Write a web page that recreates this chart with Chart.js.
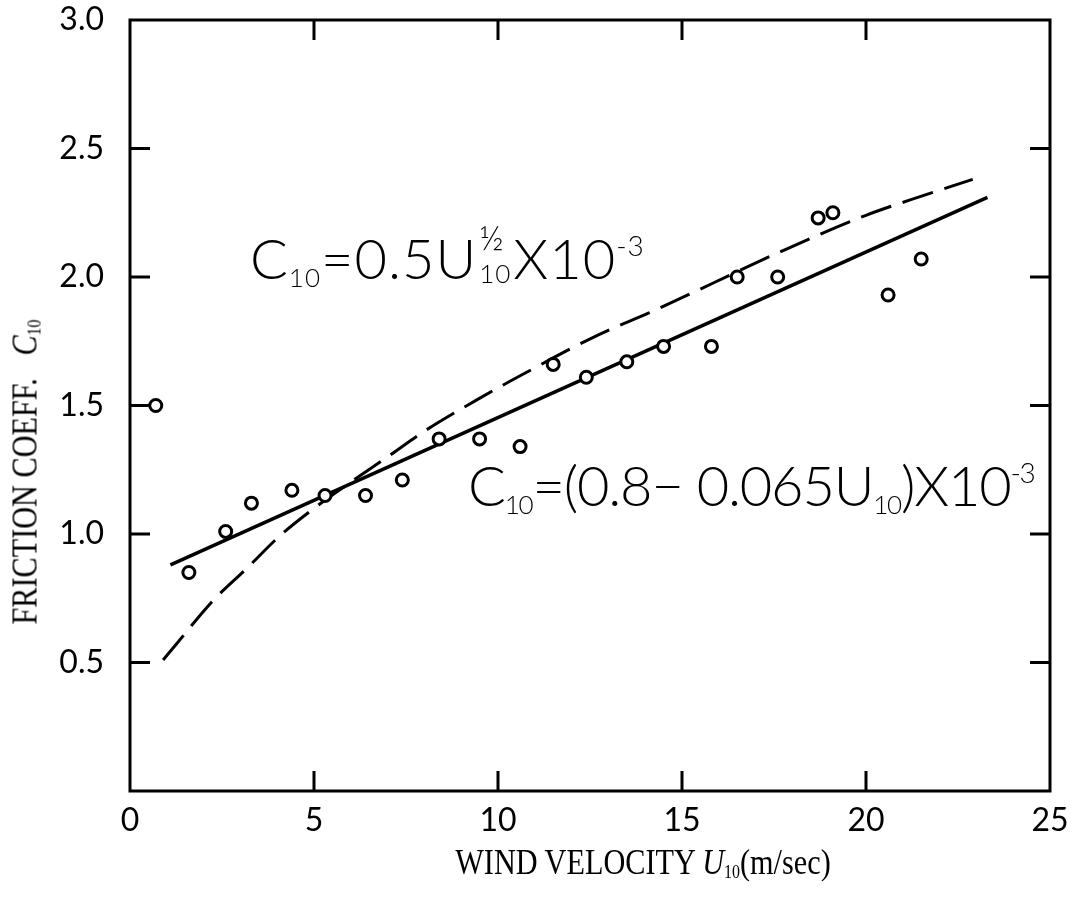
<!DOCTYPE html>
<html>
<head>
<meta charset="utf-8">
<script src="https://cdn.jsdelivr.net/npm/chart.js@4.4.1/dist/chart.umd.min.js"></script>
<style>
  body { margin: 0; background: #fff; }
  #wrap { position: relative; width: 1083px; height: 898px; }
  #myChart { position: absolute; left: 0; top: 0; }
  .eq {
    position: absolute;
    font-family: Lato, "DejaVu Sans", sans-serif;
    font-weight: 300;
    font-size: 56px;
    line-height: 1;
    white-space: nowrap;
    color: #000;
  }
  .eq .sub { font-size: 26px; vertical-align: -8px; }
  .eq .sup { font-size: 28px; vertical-align: 23px; }
  .eq .stack {
    display: inline-block;
    position: relative;
    width: 36px;
    height: 1px;
  }
  .eq .stack span { position: absolute; left: 2px; line-height: 1; }
  .eq .stack .hi { top: -58px; font-size: 34px; }
  .eq .stack .lo { top: -18px; font-size: 26px; }
  #eq1 { letter-spacing: 1px; }
  #eq2 { letter-spacing: -1.2px; }
  .title {
    position: absolute;
    font-family: "Liberation Serif", "DejaVu Serif", serif;
    font-size: 36px;
    line-height: 1;
    white-space: nowrap;
    color: #000;
  }
  .title i { font-style: italic; }
  .title sub { font-size: 19px; vertical-align: -4px; }
  #ytitle {
    left: 25px;
    top: 472px;
    transform: translate(-50%, -50%) rotate(-90deg) scaleX(0.84);
  }
  #xtitle {
    left: 643px;
    top: 862px;
    transform: translate(-50%, -50%) scaleX(0.84);
  }
</style>
</head>
<body>
<div id="wrap">
  <canvas id="myChart" width="1083" height="898"></canvas>
  <div class="eq" id="eq1" style="left:250px; top:230px;">C<span class="sub">10</span>=0.5U<span class="stack"><span class="hi">½</span><span class="lo">10</span></span>X10<span class="sup">-3</span></div>
  <div class="eq" id="eq2" style="left:468px; top:457px;">C<span class="sub">10</span>=(0.8− 0.065U<span class="sub">10</span>)X10<span class="sup">-3</span></div>
  <div class="title" id="ytitle">FRICTION COEFF.&nbsp;&nbsp;&nbsp;<i>C</i><sub>10</sub></div>
  <div class="title" id="xtitle">WIND VELOCITY <i>U</i><sub>10</sub>(m/sec)</div>
</div>
<script>
// observed friction coefficients (x10^-3) against wind speed U10 (m/s)
const windSpeed = [0.7, 1.6, 2.6, 3.3, 4.4, 5.3, 6.4, 7.4, 8.4, 9.5, 10.6, 11.5,
  12.4, 13.5, 14.5, 15.8, 16.5, 17.6, 18.7, 19.1, 20.6, 21.5];
const frictionCoeff = [1.50, 0.85, 1.01, 1.12, 1.17, 1.15, 1.15, 1.21, 1.37, 1.37, 1.34, 1.66,
  1.61, 1.67, 1.73, 1.73, 2.00, 2.00, 2.23, 2.25, 1.93, 2.07];

// straight fit line, end points
const fitU = [1.1, 23.3];
const fitC = [0.88, 2.31];

// dashed square-root curve
const rootU = [0.9, 1.25, 2.25, 3.2, 4.05, 5.0, 7.1, 8.0, 9.4, 10.4, 12.8, 14.1, 17.7, 20.0, 21.2, 22.9];
const rootC = [0.51, 0.57, 0.74, 0.87, 0.99, 1.10, 1.31, 1.40, 1.52, 1.60, 1.78, 1.86, 2.10, 2.24, 2.30, 2.38];

const xTicks = [0, 5, 10, 15, 20, 25];
const yTicks = [0, 0.5, 1.0, 1.5, 2.0, 2.5, 3.0];

const toPoints = (xs, ys) => xs.map((x, i) => ({ x: x, y: ys[i] }));

const tickFont = { family: "Lato, 'DejaVu Sans', sans-serif", size: 32 };

// box frame with inward tick marks on all four sides
const framePlugin = {
  id: "frame",
  afterDraw(chart) {
    const { ctx, chartArea: a, scales } = chart;
    const len = 20;
    ctx.save();
    ctx.strokeStyle = "#000";
    ctx.lineWidth = 3;
    ctx.strokeRect(a.left, a.top, a.right - a.left, a.bottom - a.top);
    ctx.beginPath();
    xTicks.slice(1, -1).forEach((v) => {
      const px = scales.x.getPixelForValue(v);
      ctx.moveTo(px, a.bottom);
      ctx.lineTo(px, a.bottom - len);
      ctx.moveTo(px, a.top);
      ctx.lineTo(px, a.top + len);
    });
    yTicks.slice(1, -1).forEach((v) => {
      const py = scales.y.getPixelForValue(v);
      ctx.moveTo(a.left, py);
      ctx.lineTo(a.left + len, py);
      ctx.moveTo(a.right, py);
      ctx.lineTo(a.right - len, py);
    });
    ctx.stroke();
    ctx.restore();
  },
};

const ctx = document.getElementById("myChart");
const myChart = new Chart(ctx, {
  type: "scatter",
  data: {
    datasets: [
      {
        label: "observed",
        data: toPoints(windSpeed, frictionCoeff),
        pointStyle: "circle",
        pointRadius: 6,
        pointBorderWidth: 3,
        borderColor: "#000",
        backgroundColor: "#fff",
        showLine: false,
      },
      {
        label: "linear",
        data: toPoints(fitU, fitC),
        showLine: true,
        borderColor: "#000",
        borderWidth: 3.5,
        pointRadius: 0,
      },
      {
        label: "root",
        data: toPoints(rootU, rootC),
        showLine: true,
        borderColor: "#000",
        borderWidth: 3,
        borderDash: [32, 12],
        cubicInterpolationMode: "monotone",
        pointRadius: 0,
      },
    ],
  },
  options: {
    responsive: false,
    animation: false,
    layout: { padding: { top: 20, right: 33, left: 0, bottom: 0 } },
    plugins: {
      legend: { display: false },
      tooltip: { enabled: false },
    },
    scales: {
      x: {
        type: "linear",
        min: 0,
        max: 25,
        afterBuildTicks: (s) => { s.ticks = xTicks.map((v) => ({ value: v })); },
        afterFit: (s) => {
          s.height = 107;
          s.paddingLeft = 0;
          s.paddingRight = 0;
        },
        grid: { display: false },
        border: { display: false },
        ticks: { color: "#000", font: tickFont, padding: 2, maxRotation: 0 },
      },
      y: {
        type: "linear",
        min: 0,
        max: 3,
        afterBuildTicks: (s) => { s.ticks = yTicks.map((v) => ({ value: v })); },
        afterFit: (s) => {
          s.width = 130;
          s.paddingTop = 0;
          s.paddingBottom = 0;
        },
        grid: { display: false },
        border: { display: false },
        ticks: {
          color: "#000",
          font: tickFont,
          padding: 18,
          callback: (v) => (v === 0 ? "" : v.toFixed(1)),
        },
      },
    },
  },
  plugins: [framePlugin],
});
</script>
</body>
</html>
